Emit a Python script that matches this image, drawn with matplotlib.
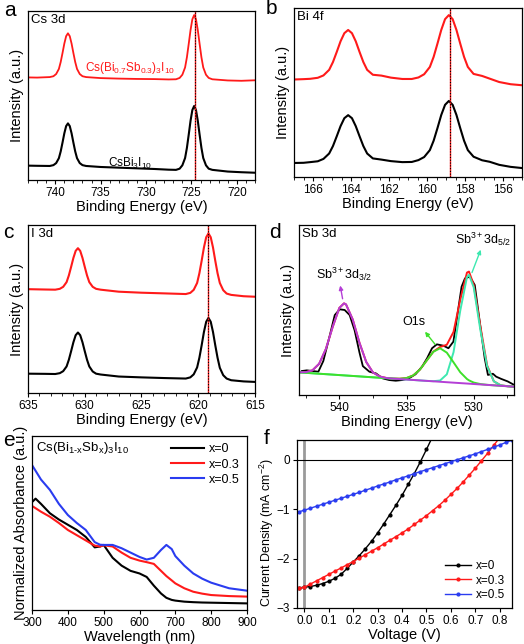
import matplotlib
matplotlib.use("Agg")
import matplotlib.pyplot as plt
from matplotlib.ticker import MultipleLocator

plt.rcParams['font.family'] = ['Liberation Sans', 'DejaVu Sans']
plt.rcParams['mathtext.fontset'] = 'custom'
plt.rcParams['mathtext.rm'] = 'Liberation Sans'
plt.rcParams['mathtext.it'] = 'Liberation Sans'
plt.rcParams['xtick.direction'] = 'out'
plt.rcParams['axes.linewidth'] = 0.9

# ---- a: Cs 3d ----
cs_be = [743, 742,
         740.6, 740.2, 739.9, 739.6, 739.4, 739.2, 739.0, 738.8, 738.6, 738.4, 738.2, 738.0, 737.8,
         737.6, 737.3, 737.0, 736.6,
         735, 733, 731, 729, 727.5,
         726.7, 726.3, 726.0, 725.7, 725.5, 725.3, 725.1, 724.9, 724.7, 724.5, 724.3, 724.1, 723.9,
         723.7, 723.4, 723.1, 722.7,
         721, 719.5, 718]
cs_sb = [0.607, 0.606,
         0.609, 0.614, 0.627, 0.657, 0.698, 0.751, 0.807, 0.851, 0.868, 0.851, 0.807, 0.751, 0.698,
         0.657, 0.627, 0.614, 0.609,
         0.603, 0.600, 0.598, 0.597, 0.595,
         0.596, 0.604, 0.623, 0.666, 0.726, 0.805, 0.887, 0.951, 0.976, 0.951, 0.887, 0.805, 0.726,
         0.666, 0.623, 0.604, 0.596,
         0.589, 0.587, 0.590]
cs_bi = [0.085, 0.084,
         0.083, 0.088, 0.100, 0.129, 0.169, 0.221, 0.276, 0.319, 0.335, 0.319, 0.276, 0.221, 0.169,
         0.129, 0.100, 0.088, 0.083,
         0.077, 0.073, 0.069, 0.065, 0.061,
         0.060, 0.067, 0.087, 0.130, 0.190, 0.268, 0.350, 0.414, 0.438, 0.414, 0.350, 0.268, 0.190,
         0.130, 0.087, 0.067, 0.060,
         0.050, 0.046, 0.043]

# ---- b: Bi 4f ----
bi_be = [167, 166.5, 166.15, 165.75, 165.45, 165.15, 164.95, 164.75, 164.55, 164.35,
         164.15, 163.95, 163.75, 163.55, 163.35, 163.15, 162.85, 162.4, 161.9, 161.3,
         160.8, 160.45, 160.15, 159.85, 159.65, 159.45, 159.25, 159.05, 158.85, 158.65,
         158.45, 158.25, 158.05, 157.85, 157.55, 157.1, 156.7, 156.2, 155.6, 155.0]
bi_sb = [0.577, 0.579, 0.581, 0.587, 0.601, 0.634, 0.680, 0.740, 0.803, 0.851,
         0.870, 0.851, 0.803, 0.740, 0.680, 0.634, 0.605, 0.600, 0.588, 0.580,
         0.580, 0.589, 0.608, 0.651, 0.711, 0.789, 0.870, 0.934, 0.958, 0.934,
         0.870, 0.789, 0.711, 0.651, 0.610, 0.598, 0.582, 0.562, 0.549, 0.543]
bi_bi = [0.083, 0.084, 0.088, 0.093, 0.107, 0.139, 0.183, 0.241, 0.301, 0.348,
         0.366, 0.348, 0.301, 0.241, 0.183, 0.139, 0.110, 0.103, 0.094, 0.088,
         0.089, 0.100, 0.118, 0.159, 0.215, 0.289, 0.367, 0.427, 0.450, 0.427,
         0.367, 0.289, 0.215, 0.159, 0.120, 0.099, 0.090, 0.072, 0.060, 0.053]

# ---- c: I 3d ----
i_be = [635, 633.5,
        632.6, 632.2, 631.9, 631.6, 631.4, 631.2, 631.0, 630.8, 630.6, 630.4, 630.2, 630.0, 629.8,
        629.6, 629.3, 629.0, 628.6,
        627, 625, 623,
        621.1, 620.7, 620.4, 620.1, 619.9, 619.7, 619.5, 619.3, 619.1, 618.9, 618.7, 618.5, 618.3,
        618.1, 617.8, 617.5, 617.1,
        616, 615]
i_sb = [0.618, 0.616,
        0.615, 0.620, 0.632, 0.660, 0.700, 0.751, 0.804, 0.846, 0.862, 0.846, 0.804, 0.751, 0.700,
        0.660, 0.632, 0.620, 0.615,
        0.603, 0.597, 0.593,
        0.589, 0.596, 0.614, 0.655, 0.713, 0.787, 0.866, 0.927, 0.950, 0.927, 0.866, 0.787, 0.713,
        0.655, 0.612, 0.592, 0.584,
        0.576, 0.573]
i_bi = [0.115, 0.114,
        0.113, 0.118, 0.130, 0.158, 0.198, 0.249, 0.302, 0.344, 0.360, 0.344, 0.302, 0.249, 0.198,
        0.158, 0.128, 0.115, 0.110,
        0.098, 0.093, 0.089,
        0.086, 0.093, 0.111, 0.152, 0.210, 0.284, 0.363, 0.424, 0.447, 0.424, 0.363, 0.284, 0.210,
        0.150, 0.106, 0.086, 0.076,
        0.069, 0.066]

# ---- d: Sb 3d ----
sb_be = [542.79, 542.42, 541.56, 541.19, 540.70, 540.34, 539.97, 539.6, 539.23, 538.86, 538.5,
         538.25, 537.76, 537.27, 536.78, 536.29, 535.8, 535.31, 534.82, 534.33, 533.84, 533.47,
         533.1, 532.74, 532.25, 531.88, 531.51, 531.14, 530.9, 530.65, 530.29, 529.92, 529.55,
         529.18, 528.94, 528.57, 528.33, 527.96, 527.47, 527.05]
sb_raw = [0.141, 0.145, 0.137, 0.200, 0.353, 0.470, 0.504, 0.500, 0.470, 0.380, 0.250, 0.170,
          0.137, 0.127, 0.098, 0.088, 0.084, 0.088, 0.098, 0.122, 0.167, 0.216, 0.275, 0.298,
          0.290, 0.275, 0.314, 0.510, 0.637, 0.686, 0.696, 0.647, 0.430, 0.216, 0.118, 0.125,
          0.108, 0.095, 0.080, 0.062]
fit_be = [543, 542.5, 542, 541.5, 541, 540.5, 540, 539.65, 539.5, 539, 538.5, 538, 537.5, 537,
          536.5, 536, 535.5, 535, 534.5, 534, 533.5, 533, 532.5, 532, 531.5, 531, 530.5, 530.35,
          530, 529.5, 529, 528.5, 528, 527.5, 527]
fit_sum = [0.1336, 0.1343, 0.1453, 0.1836, 0.2705, 0.3989, 0.5122, 0.539, 0.5326, 0.444, 0.3074,
           0.1947, 0.1331, 0.1088, 0.1003, 0.0966, 0.0958, 0.0996, 0.1151, 0.1497, 0.2026, 0.2552,
           0.2823, 0.2956, 0.3711, 0.560, 0.7201, 0.7261, 0.6480, 0.4032, 0.1737, 0.0805, 0.0573,
           0.0519, 0.049]
fit_32 = [0.134, 0.134, 0.145, 0.184, 0.271, 0.399, 0.512, 0.539, 0.533, 0.444, 0.307, 0.195,
          0.133, 0.109, 0.100, 0.0962, 0.0936, 0.091, 0.0884, 0.0857, 0.0831, 0.0805, 0.0779,
          0.0752, 0.0726, 0.070, 0.0674, 0.0666, 0.0647, 0.0621, 0.0595, 0.0569, 0.0542, 0.0516, 0.049]
fit_o1s = [0.133, 0.1304, 0.1278, 0.1251, 0.1225, 0.1199, 0.1172, 0.1154, 0.1146, 0.112, 0.1094,
           0.1067, 0.1041, 0.1015, 0.0989, 0.0966, 0.0958, 0.0996, 0.1151, 0.1497, 0.2026, 0.2545,
           0.2749, 0.2492, 0.1921, 0.1340, 0.0941, 0.0861, 0.0733, 0.0643, 0.0599, 0.0569, 0.0542,
           0.0516, 0.049]
fit_52 = [0.133, 0.1304, 0.1278, 0.1251, 0.1225, 0.1199, 0.1172, 0.1154, 0.1146, 0.112, 0.1094,
          0.1067, 0.1041, 0.1015, 0.0989, 0.0962, 0.0936, 0.091, 0.0884, 0.0857, 0.0831, 0.0812,
          0.0853, 0.1216, 0.2516, 0.496, 0.6934, 0.7066, 0.6337, 0.3811, 0.1695, 0.0805, 0.0573,
          0.0519, 0.049]

# ---- e: absorbance ----
wl = [300, 310, 325, 350, 375, 400, 425, 450, 475, 490, 500, 525, 550, 575, 600, 620, 640, 660,
      675, 690, 700, 725, 750, 775, 800, 850, 900]
abs_x0 = [0.62, 0.64, 0.61, 0.556, 0.52, 0.49, 0.46, 0.42, 0.36, 0.365, 0.374, 0.30, 0.255, 0.225,
          0.21, 0.19, 0.14, 0.095, 0.07, 0.058, 0.054, 0.048, 0.045, 0.043, 0.042, 0.040, 0.038]
abs_x3 = [0.598, 0.585, 0.565, 0.536, 0.50, 0.46, 0.43, 0.40, 0.37, 0.365, 0.372, 0.365, 0.33,
          0.30, 0.284, 0.275, 0.265, 0.225, 0.195, 0.17, 0.153, 0.125, 0.105, 0.094, 0.086, 0.08, 0.077]
abs_x5 = [0.833, 0.80, 0.75, 0.69, 0.61, 0.546, 0.50, 0.46, 0.39, 0.375, 0.374, 0.374, 0.355,
          0.33, 0.305, 0.29, 0.30, 0.345, 0.374, 0.35, 0.31, 0.255, 0.21, 0.18, 0.157, 0.125, 0.111]

# ---- f: J-V ----
v_x0 = [-0.02, 0, 0.025, 0.05, 0.075, 0.1, 0.125, 0.15, 0.175, 0.2, 0.225, 0.25, 0.275, 0.3, 0.325,
        0.35, 0.375, 0.4, 0.425, 0.45, 0.475, 0.5, 0.525]
j_x0 = [-2.59, -2.58, -2.565, -2.54, -2.505, -2.46, -2.40, -2.32, -2.20, -2.07, -1.94, -1.80, -1.65,
        -1.48, -1.30, -1.11, -0.92, -0.72, -0.50, -0.28, -0.04, 0.21, 0.47]
v_x3 = [-0.02, 0, 0.025, 0.05, 0.075, 0.1, 0.125, 0.15, 0.175, 0.2, 0.225, 0.25, 0.275, 0.3, 0.325,
        0.35, 0.375, 0.4, 0.425, 0.45, 0.475, 0.5, 0.525, 0.55, 0.575, 0.6, 0.625, 0.65, 0.675, 0.7,
        0.725, 0.75, 0.775, 0.8]
j_x3 = [-2.60, -2.58, -2.515, -2.45, -2.385, -2.32, -2.255, -2.19, -2.125, -2.06, -1.99, -1.92,
        -1.85, -1.78, -1.705, -1.63, -1.555, -1.48, -1.40, -1.31, -1.22, -1.13, -1.03, -0.93, -0.82,
        -0.70, -0.58, -0.45, -0.31, -0.17, -0.02, 0.13, 0.29, 0.45]
v_x5 = [-0.02, 0, 0.025, 0.05, 0.075, 0.1, 0.125, 0.15, 0.175, 0.2, 0.225, 0.25, 0.275, 0.3, 0.325,
        0.35, 0.375, 0.4, 0.425, 0.45, 0.475, 0.5, 0.525, 0.55, 0.575, 0.6, 0.625, 0.65, 0.675, 0.7,
        0.725, 0.75, 0.775, 0.8, 0.825, 0.85]
j_x5 = [-1.05, -1.02, -0.98, -0.94, -0.90, -0.86, -0.82, -0.78, -0.74, -0.70, -0.66, -0.615, -0.575,
        -0.53, -0.49, -0.45, -0.405, -0.365, -0.325, -0.28, -0.24, -0.20, -0.16, -0.12, -0.08, -0.04,
        0.0, 0.04, 0.08, 0.12, 0.165, 0.21, 0.255, 0.30, 0.35, 0.40]

RED = '#ff1a1a'
BLUE = '#2a3cf0'
W, H = 524, 644


def add_ax(fig, l, r, t, b):
    return fig.add_axes([l / W, 1 - b / H, (r - l) / W, (b - t) / H])


def xps_style(ax, xlim, major, minor, title):
    ax.set_xlim(*xlim)
    ax.set_ylim(0, 1)
    ax.set_yticks([])
    ax.xaxis.set_major_locator(MultipleLocator(major))
    ax.xaxis.set_minor_locator(MultipleLocator(minor))
    ax.tick_params(axis='x', labelsize=8.5, length=3, pad=2)
    ax.tick_params(axis='x', which='minor', length=1.8)
    ax.set_xlabel('Binding Energy (eV)', fontsize=10.5, labelpad=1)
    ax.set_ylabel('Intensity (a.u.)', fontsize=10.5, labelpad=3)
    ax.text(0.015, 0.985, title, transform=ax.transAxes, ha='left', va='top', fontsize=9.5)


fig = plt.figure(figsize=(W / 100, H / 100), dpi=100)

# a
ax = add_ax(fig, 28, 255, 11, 180)
ax.plot(cs_be, cs_sb, color=RED, lw=1.3)
ax.plot(cs_be, cs_bi, color='black', lw=1.5)
ax.axvline(724.6, color=RED, lw=1.0)
ax.axvline(724.6, color='black', lw=0.8, ls=(0, (1, 1.5)))
xps_style(ax, (743, 718), 5, 1, 'Cs 3d')
ax.text(731.8, 0.66, r'Cs(Bi$_{0.7}$Sb$_{0.3}$)$_3$I$_{10}$', color=RED, fontsize=8.5, ha='center', va='center')
ax.text(731.8, 0.10, r'CsBi$_3$I$_{10}$', color='black', fontsize=8.5, ha='center', va='center')

# b
ax = add_ax(fig, 294, 522, 8, 177)
ax.plot(bi_be, bi_sb, color=RED, lw=1.5)
ax.plot(bi_be, bi_bi, color='black', lw=1.5)
ax.axvline(158.8, color=RED, lw=1.0)
ax.axvline(158.8, color='black', lw=0.8, ls=(0, (1, 1.5)))
xps_style(ax, (167, 155), 2, 0.5, 'Bi 4f')

# c
ax = add_ax(fig, 28, 255, 225, 393)
ax.plot(i_be, i_sb, color=RED, lw=1.5)
ax.plot(i_be, i_bi, color='black', lw=1.5)
ax.axvline(619.1, color=RED, lw=1.0)
ax.axvline(619.1, color='black', lw=0.8, ls=(0, (1, 1.5)))
xps_style(ax, (635, 615), 5, 1, 'I 3d')

# d
ax = add_ax(fig, 299, 514, 225, 395)
ax.plot(sb_be, sb_raw, color='black', lw=1.3)
ax.plot(fit_be, fit_sum, color=RED, lw=1.4)
ax.plot(fit_be, fit_52, color='#3de8b0', lw=1.4)
ax.plot(fit_be, fit_o1s, color='#3ee02a', lw=1.4)
ax.plot(fit_be, fit_32, color='#b43ed6', lw=1.4)
xps_style(ax, (543, 527), 5, 2.5, 'Sb 3d')
ax.annotate('', xy=(539.97, 0.66), xytext=(539.72, 0.55),
            arrowprops=dict(arrowstyle='-|>', color='#b43ed6', lw=1.0, mutation_scale=6))
ax.text(539.6, 0.71, r'Sb$^{3+}$3d$_{3/2}$', fontsize=9, ha='center', va='center')
ax.annotate('', xy=(533.75, 0.385), xytext=(532.74, 0.285),
            arrowprops=dict(arrowstyle='-|>', color='#3ee02a', lw=1.0, mutation_scale=6))
ax.text(534.45, 0.43, 'O1s', fontsize=9, ha='center', va='center')
ax.annotate('', xy=(529.4, 0.87), xytext=(530.2, 0.705),
            arrowprops=dict(arrowstyle='-|>', color='#3de8b0', lw=1.0, mutation_scale=6))
ax.text(529.3, 0.915, r'Sb$^{3+}$3d$_{5/2}$', fontsize=9, ha='center', va='center')

# e
ax = add_ax(fig, 32, 247, 436, 610)
ax.plot(wl, abs_x0, color='black', lw=1.5, label='x=0')
ax.plot(wl, abs_x3, color=RED, lw=1.5, label='x=0.3')
ax.plot(wl, abs_x5, color=BLUE, lw=1.5, label='x=0.5')
ax.set_xlim(300, 900)
ax.set_ylim(0, 1)
ax.set_yticks([])
ax.xaxis.set_major_locator(MultipleLocator(100))
ax.tick_params(axis='x', labelsize=8.5, length=3, pad=2)
ax.set_xlabel('Wavelength (nm)', fontsize=10.5, labelpad=1)
ax.set_ylabel('Normalized Absorbance (a.u.)', fontsize=10.5, labelpad=3)
ax.text(0.02, 0.975, r'Cs(Bi$_{1\text{-}x}$Sb$_x$)$_3$I$_{10}$', transform=ax.transAxes,
        ha='left', va='top', fontsize=9.5)
ax.legend(loc='upper right', frameon=False, fontsize=9, handlelength=2.6,
          handletextpad=0.4, labelspacing=0.25, borderaxespad=0.2)

# f
ax = add_ax(fig, 297, 512, 440, 608)
ax.axvline(0, color='#9a9a9a', lw=2.0)
ax.axhline(0, color='black', lw=0.8)
ax.plot(v_x0, j_x0, color='black', lw=1.0, marker='o', ms=2.0, label='x=0')
ax.plot(v_x3, j_x3, color=RED, lw=1.0, marker='o', ms=2.0, label='x=0.3')
ax.plot(v_x5, j_x5, color=BLUE, lw=1.0, marker='o', ms=2.0, label='x=0.5')
ax.set_xlim(-0.03, 0.85)
ax.set_ylim(-3, 0.4)
ax.xaxis.set_major_locator(MultipleLocator(0.1))
ax.yaxis.set_major_locator(MultipleLocator(1))
ax.tick_params(labelsize=8.5, length=3, pad=2)
ax.set_xlabel('Voltage (V)', fontsize=10.5, labelpad=1)
ax.set_ylabel(r'Current Density (mA cm$^{-2}$)', fontsize=9)
ax.yaxis.set_label_coords(-0.1, 0.45)
ax.legend(loc='lower right', frameon=False, fontsize=8.5, handlelength=2.2,
          handletextpad=0.4, labelspacing=0.2, borderaxespad=0.2)

# panel letters
for lab, x, y in [('a', 4, 16), ('b', 266, 14), ('c', 3, 238), ('d', 269, 238),
                  ('e', 3, 446), ('f', 264, 444)]:
    fig.text(x / W, 1 - y / H, lab, fontsize=15, ha='left', va='baseline')

fig.savefig('out.png', dpi=100)
